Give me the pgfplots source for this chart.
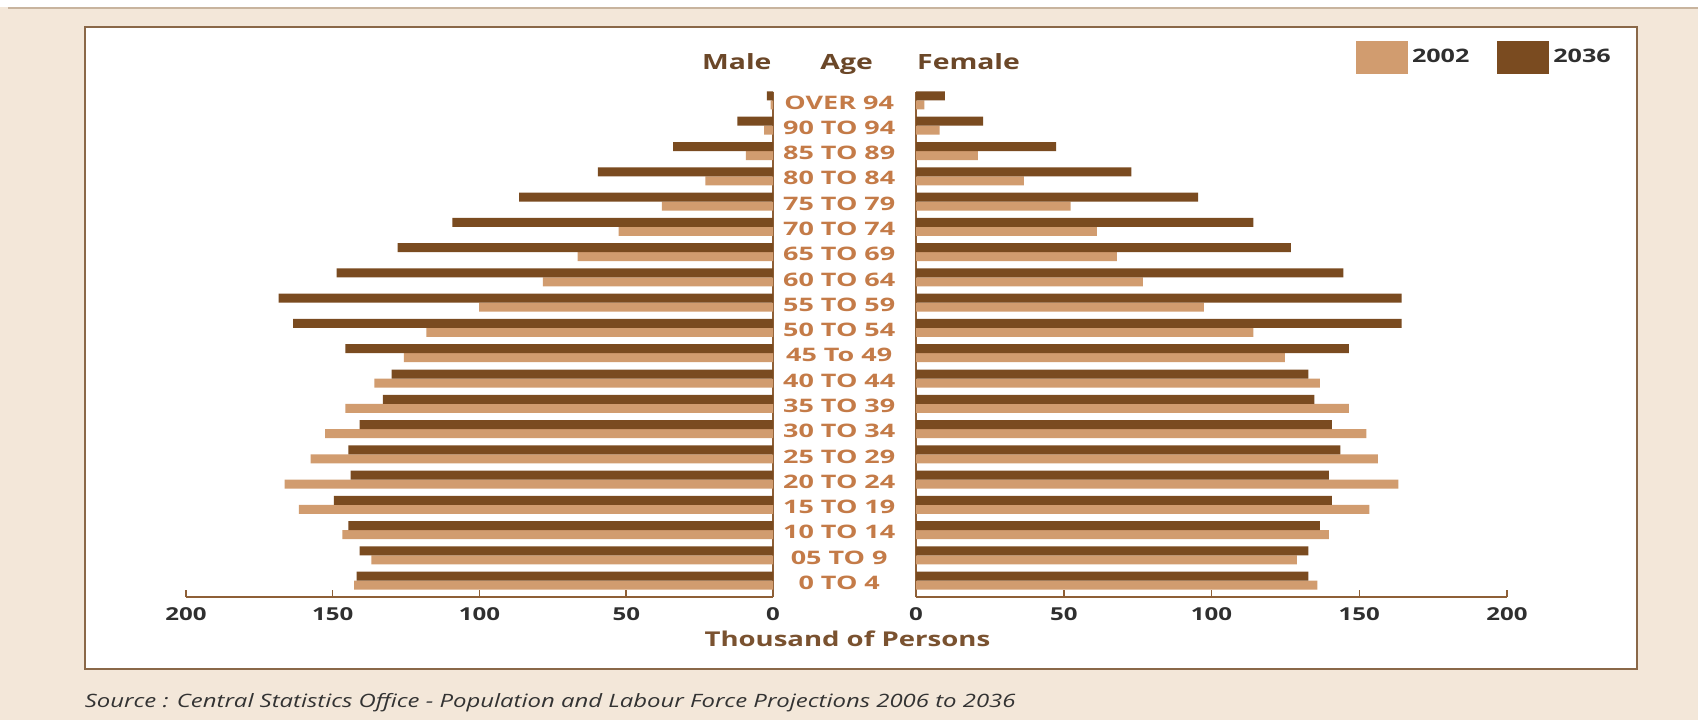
\documentclass[border=0pt]{standalone}
\usepackage{pgfplots}
\pgfplotsset{compat=1.18}
\usepackage{pgfplotstable}
\usepackage{fontspec}
\setmainfont{Open Sans}[FakeStretch=1.35]
\newfontfamily\agefont{Open Sans}[FakeStretch=1.45]
\newfontfamily\srcfont{Open Sans}[FakeStretch=1.3]

\definecolor{bg}{HTML}{F3E7D9}
\definecolor{topline}{HTML}{C8B49E}
\definecolor{dark}{HTML}{7A4B20}
\definecolor{light}{HTML}{D19C6F}
\definecolor{ageC}{HTML}{C47B48}
\definecolor{hdr}{HTML}{6B4728}
\definecolor{xlabC}{HTML}{7A5230}
\definecolor{axC}{HTML}{8E5F36}
\definecolor{frameC}{HTML}{8A6848}
\definecolor{tickC}{HTML}{2F2F2F}
\definecolor{srcC}{HTML}{333333}

% y index: 0 = "0 TO 4" ... 19 = "OVER 94"; m = male, f = female; 02 = 2002, 36 = 2036 (thousands)
\pgfplotstableread{
y  m02   m36   f02   f36
0  142.7 141.9 135.8 132.8
1  136.8 140.8 128.9 132.8
2  146.7 144.7 139.7 136.7
3  161.5 149.6 153.4 140.7
4  166.4 143.9 163.2 139.7
5  157.5 144.7 156.3 143.6
6  152.6 140.8 152.4 140.7
7  145.7 132.9 146.5 134.8
8  135.8 129.9 136.7 132.8
9  125.8 145.7 124.8 146.5
10 118.1 163.5 114.2 164.3
11 100.1 168.4 97.4  164.3
12 78.4  148.7 76.8  144.6
13 66.6  127.9 68.0  126.9
14 52.6  109.2 61.2  114.2
15 37.9  86.5  52.3  95.5
16 23.0  59.7  36.5  72.9
17 9.2   34.0  20.9  47.4
18 3.0   12.1  8.0   22.7
19 0.8   2.1   2.8   9.8
}\pop

\pgfplotsset{
  pyr/.style={
    scale only axis, height=252.7pt,
    xbar, bar width=4.5pt,
    xmin=0, xmax=200,
    ymin=-0.644, ymax=19.35,
    axis x line*=bottom,
    axis line style={-, draw=axC, line width=0.75pt},
    xtick={0,50,100,150,200},
    xtick align=inside, major tick length=3.4pt,
    xtick style={draw=axC, line width=0.75pt},
    xticklabel style={font=\bfseries\fontsize{8.9}{10}\selectfont, text=tickC},
    xticklabel shift=1.8pt,
    /pgf/number format/assume math mode=true,
    clip=false,
  }
}

\begin{document}
\begin{tikzpicture}
\fill[bg] (0pt,0pt) rectangle (849pt,-360pt);
\fill[white] (0pt,0pt) rectangle (849pt,-3.6pt);
\draw[line width=0.6pt, color=topline] (4pt,-4pt) -- (849pt,-4pt);
\filldraw[fill=white, draw=frameC, line width=1pt] (42.25pt,-13.5pt) rectangle (818.5pt,-334.5pt);

\begin{axis}[pyr,
  at={(93pt,-298.5pt)}, anchor=south west,
  width=293.5pt,
  x dir=reverse,
  axis y line*=right,
  ytick=\empty,
]
\addplot[fill=light, draw=none, bar shift=-2.25pt] table[x=m02, y=y]{\pop};
\addplot[fill=dark, draw=none, bar shift=2.25pt] table[x=m36, y=y]{\pop};
\end{axis}

\begin{axis}[pyr,
  at={(458pt,-298.5pt)}, anchor=south west,
  width=295.5pt,
  axis y line*=left,
  ytick={0,...,19},
  yticklabels={0 TO 4,05 TO 9,10 TO 14,15 TO 19,20 TO 24,25 TO 29,30 TO 34,35 TO 39,40 TO 44,45 To 49,50 TO 54,55 TO 59,60 TO 64,65 TO 69,70 TO 74,75 TO 79,80 TO 84,85 TO 89,90 TO 94,OVER 94},
  ytick style={draw=none},
  yticklabel style={anchor=center, xshift=-35pt, yshift=-1pt, inner sep=0pt,
    font=\agefont\bfseries\fontsize{9.3}{10}\selectfont, text=ageC},
  legend columns=2,
  legend cell align=left,
  legend image code/.code={\fill[#1] (0pt,-8.25pt) rectangle (26pt,8.25pt);},
  legend style={draw=none, fill=none, inner sep=0pt, outer sep=0pt,
    at={(rel axis cs:0.7445,1.100)}, anchor=north west,
    font=\bfseries\fontsize{9.3}{10}\selectfont, text=tickC,
    nodes={inner sep=2pt},
    /tikz/every even column/.append style={column sep=12pt}},
]
\addplot[fill=light, draw=none, bar shift=-2.25pt] table[x=f02, y=y]{\pop};
\addlegendentry{2002}
\addplot[fill=dark, draw=none, bar shift=2.25pt] table[x=f36, y=y]{\pop};
\addlegendentry{2036}
\end{axis}

\node[anchor=base east, inner sep=0pt, text=hdr, font=\bfseries\fontsize{10.5}{12}\selectfont] at (385.9pt,-34.65pt) {Male};
\node[anchor=base, inner sep=0pt, text=hdr, font=\bfseries\fontsize{10.5}{12}\selectfont] at (423.3pt,-34.65pt) {Age};
\node[anchor=base west, inner sep=0pt, text=hdr, font=\bfseries\fontsize{10.5}{12}\selectfont] at (458.4pt,-34.65pt) {Female};
\node[inner sep=0pt, text=xlabC, font=\bfseries\fontsize{10.2}{12}\selectfont] at (423.7pt,-319.3pt) {Thousand of Persons};
\node[anchor=base west, inner sep=0pt, text=srcC, font=\srcfont\itshape\fontsize{9.2}{11}\selectfont] at (42.25pt,-353.8pt) {Source : Central Statistics Office - Population and Labour Force Projections 2006 to 2036};

\pgfresetboundingbox
\useasboundingbox (0pt,0pt) rectangle (849pt,-360pt);
\end{tikzpicture}
\end{document}
